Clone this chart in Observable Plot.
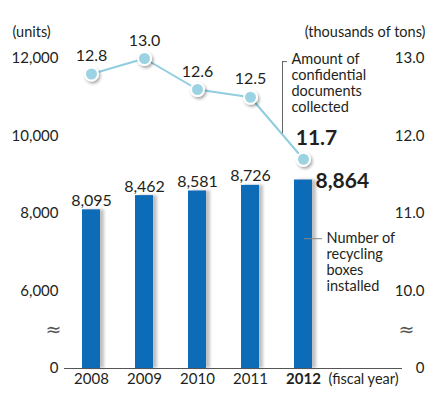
<!DOCTYPE html>
<html>
<head>
<meta charset="utf-8">
<script src="https://cdn.jsdelivr.net/npm/d3@7"></script>
<script src="https://cdn.jsdelivr.net/npm/@observablehq/plot@0.6"></script>
<style>
  html, body { margin: 0; padding: 0; background: #fff; }
</style>
</head>
<body>
<div id="chart"></div>
<script>
// ---- Data ----
const years = [2008, 2009, 2010, 2011, 2012];
const boxes = [8095, 8462, 8581, 8726, 8864];          // units (left axis)
const tons = [12.8, 13.0, 12.6, 12.5, 11.7];           // thousands of tons (right axis)
const leftTicks = [4000, 6000, 8000, 10000, 12000];
const leftTickLabels = ["0", "6,000", "8,000", "10,000", "12,000"];
const rightTickLabels = ["0", "10.0", "11.0", "12.0", "13.0"];
const seriesLabels = ["Amount of\nconfidential\ndocuments\ncollected", "Number of\nrecycling\nboxes\ninstalled"];

// right axis value -> left axis units (13.0 ↔ 12,000, 1.0 per 2,000)
const tonsToUnits = t => 12000 + (t - 13) * 2000;

const rows = years.map((year, i) => ({year, boxes: boxes[i], tons: tons[i], ty: tonsToUnits(tons[i])}));
const last = rows[rows.length - 1];
const rightTicks = leftTicks.map((v, i) => ({v, label: rightTickLabels[i]}));

const ink = "#231f20";
const barBlue = "#0a6cb8";
const dotBlue = "#9cd3e3";
const lineBlue = "#8fcddf";

const chart = Plot.plot({
  width: 428,
  height: 394,
  marginLeft: 64,
  marginRight: 26,
  marginTop: 58,
  marginBottom: 26,
  style: {fontFamily: "Lato, 'Open Sans', sans-serif", fontSize: "15px", color: ink, background: "#fff", overflow: "visible"},
  x: {type: "band", domain: years, range: [82, 313], paddingInner: 0.66, paddingOuter: 0, axis: null},
  y: {domain: [4000, 12000], axis: null},
  marks: [
    // bars
    Plot.barY(rows, {x: "year", y1: 4000, y2: "boxes", fill: barBlue}),
    // baseline
    Plot.ruleY([4000], {stroke: "#555", strokeWidth: 1}),
    // left axis
    Plot.axisY({ticks: leftTicks, tickFormat: d => leftTickLabels[leftTicks.indexOf(d)], tickSize: 0, tickPadding: 6, fontSize: 15, color: ink}),
    // right axis labels
    Plot.text(rightTicks, {y: "v", text: "label", frameAnchor: "right", dx: 22, textAnchor: "end", fontSize: 15, fill: ink}),
    // axis breaks
    Plot.text([5000], {y: d => d, text: () => "≈", frameAnchor: "left", dx: -19, fontSize: 19, fontFamily: "DejaVu Sans", fill: "#555"}),
    Plot.text([5000], {y: d => d, text: () => "≈", frameAnchor: "right", dx: 12, fontSize: 19, fontFamily: "DejaVu Sans", fill: "#555"}),
    // bar value labels
    Plot.text(rows.slice(0, -1), {x: "year", y: "boxes", text: d => d3.format(",")(d.boxes), lineAnchor: "bottom", dy: -4, fontSize: 16, fill: ink}),
    Plot.text([last], {x: "year", y: "boxes", text: d => d3.format(",")(d.boxes), textAnchor: "start", dx: 12, dy: 1, fontSize: 21, fontWeight: "bold", fill: ink}),
    // line + dots
    Plot.line(rows, {x: "year", y: "ty", stroke: lineBlue, strokeWidth: 2}),
    Plot.dot(rows, {x: "year", y: "ty", r: 6.5, fill: dotBlue, stroke: "#fff", strokeWidth: 2}),
    Plot.text(rows.slice(0, -1), {x: "year", y: "ty", text: d => d.tons.toFixed(1), dy: -18, fontSize: 16, fill: ink}),
    Plot.text([last], {x: "year", y: "ty", text: d => d.tons.toFixed(1), dx: 13, dy: -21, fontSize: 21, fontWeight: "bold", fill: ink}),
    // annotation: confidential documents (bracket)
    Plot.ruleX([last], {x: "year", y1: () => tonsToUnits(12.96), y2: () => tonsToUnits(12.03), dx: -21, stroke: "#666", strokeWidth: 1}),
    Plot.tickY([last], {x: "year", y: () => tonsToUnits(12.96), dx: -12, stroke: "#666", strokeWidth: 1, strokeDasharray: "5,100"}),
    Plot.text([last], {x: "year", y: () => tonsToUnits(12.96), text: () => seriesLabels[0], textAnchor: "start", lineAnchor: "top", dx: -12, dy: -9, lineHeight: 1.1, fontSize: 14.5, fill: ink}),
    // annotation: recycling boxes (leader)
    Plot.tickY([last], {x: "year", y: () => 7350, dx: 10, stroke: "#888", strokeWidth: 1}),
    Plot.text([last], {x: "year", y: () => 7350, text: () => seriesLabels[1], textAnchor: "start", lineAnchor: "top", dx: 23, dy: -7, lineHeight: 1.1, fontSize: 14.5, fill: ink}),
    // x axis labels
    Plot.text(years.slice(0, -1), {x: d => d, text: d => String(d), frameAnchor: "bottom", dy: 15, fontSize: 15, fill: ink}),
    Plot.text(years.slice(-1), {x: d => d, text: d => String(d), frameAnchor: "bottom", dy: 15, fontSize: 15, fontWeight: "bold", fill: ink}),
    Plot.text([last], {x: "year", text: () => "(fiscal year)", frameAnchor: "bottom", dy: 15, dx: 25, textAnchor: "start", fontSize: 14.5, fill: ink}),
    // unit labels
    Plot.text(["(units)"], {text: d => d, frameAnchor: "top-left", dx: -52, dy: -32, textAnchor: "start", fontSize: 14.5, fill: ink}),
    Plot.text(["(thousands of tons)"], {text: d => d, frameAnchor: "top-right", dx: 23, dy: -32, textAnchor: "end", fontSize: 14.5, fill: ink})
  ]
});

// drop shadows
const svg = d3.select(chart);
const defs = svg.insert("defs", ":first-child");
defs.append("filter").attr("id", "dotShadow").attr("x", "-60%").attr("y", "-60%").attr("width", "220%").attr("height", "220%")
  .append("feDropShadow").attr("dx", 1.5).attr("dy", 2).attr("stdDeviation", 1.5).attr("flood-color", "#000").attr("flood-opacity", 0.35);
defs.append("filter").attr("id", "barShadow").attr("x", "-20%").attr("y", "-5%").attr("width", "160%").attr("height", "110%")
  .append("feDropShadow").attr("dx", 4).attr("dy", 0).attr("stdDeviation", 1.5).attr("flood-color", "#777").attr("flood-opacity", 0.45);
svg.selectAll("g[aria-label=dot]").attr("filter", "url(#dotShadow)");
svg.selectAll("g[aria-label=bar]").attr("filter", "url(#barShadow)");

document.getElementById("chart").appendChild(chart);
</script>
</body>
</html>
